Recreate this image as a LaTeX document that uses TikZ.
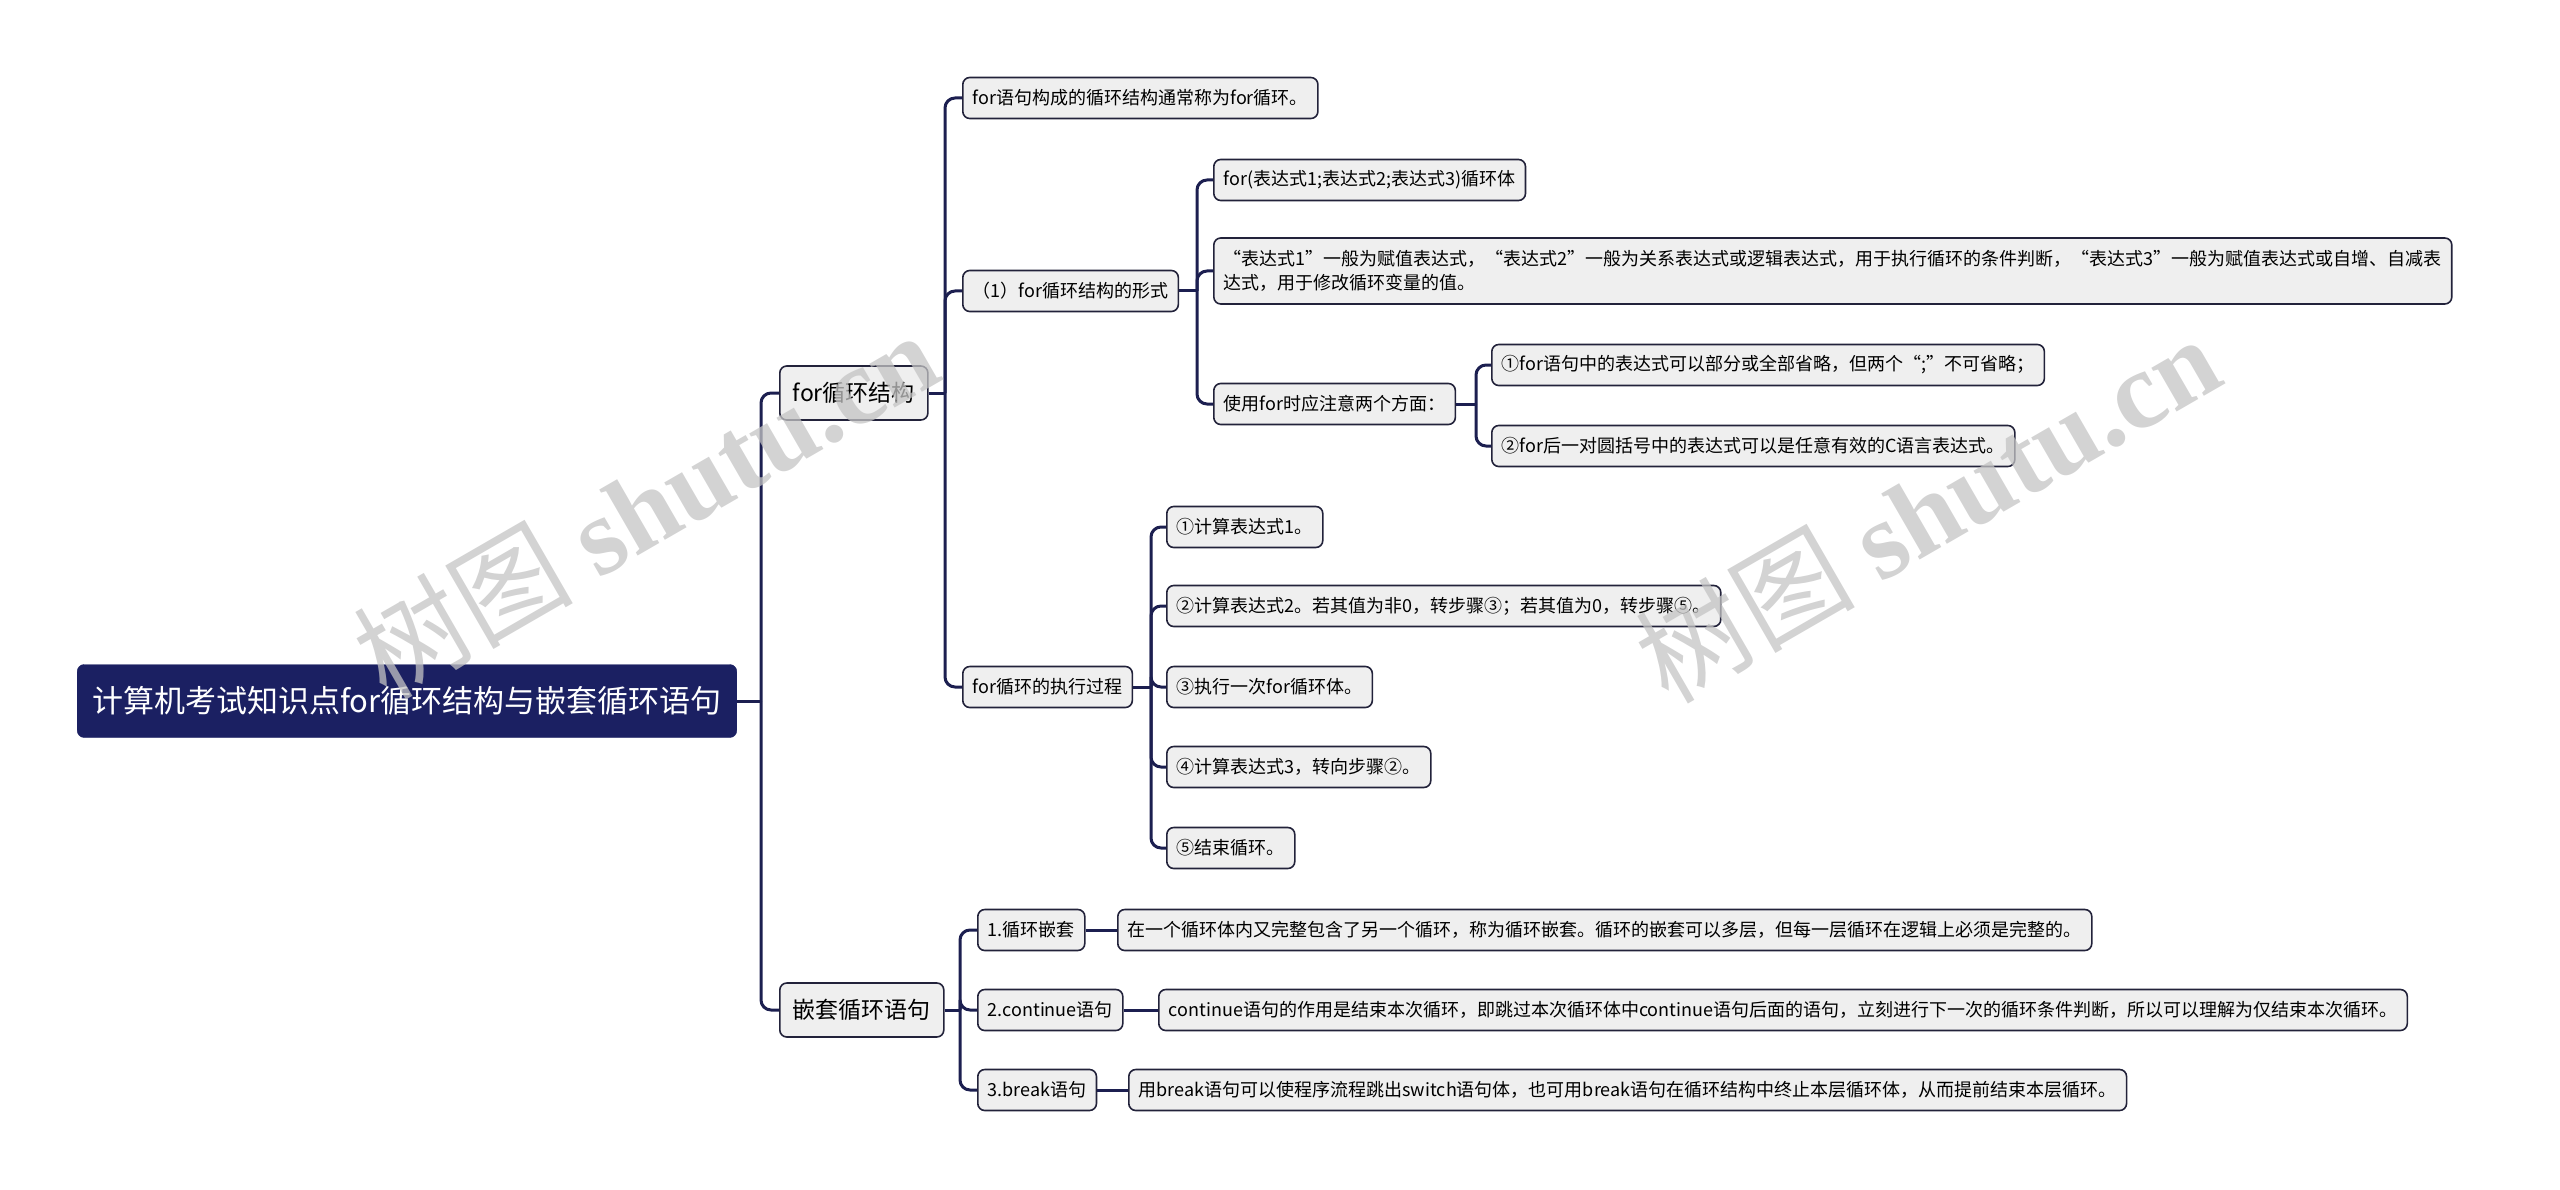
\documentclass[tikz,border=0pt]{standalone}
\usepackage{fontspec}
\setmainfont{Noto Sans CJK SC}
\newfontfamily\markserif{Liberation Serif}
\usepackage{tikz}
\usetikzlibrary{calc,positioning}
\definecolor{mmNavy}{HTML}{1B2062}
\definecolor{mmLine}{HTML}{1C1F50}
\definecolor{mmEdge}{HTML}{22223A}
\definecolor{mmGray}{HTML}{EFEFEF}
\definecolor{mmMark}{HTML}{C4C4C4}

\tikzset{
  rootbox/.style={fill=mmNavy, draw=mmNavy, text=white, rounded corners=7pt,
    font=\fontsize{31}{37}\selectfont, minimum height=73pt, inner xsep=15pt, anchor=west},
  topicbox/.style={fill=mmGray, draw=mmEdge, line width=1.6pt, rounded corners=7pt,
    font=\fontsize{23}{28}\selectfont, minimum height=54pt, inner xsep=13pt, anchor=west},
  leafbox/.style={fill=mmGray, draw=mmEdge, line width=1.6pt, rounded corners=7pt,
    font=\fontsize{18}{24}\selectfont, minimum height=41pt, inner xsep=10pt, anchor=west},
  link/.style={draw=mmLine, line width=3pt, rounded corners=10pt},
  watermark/.style={text=mmMark, opacity=0.75, rotate=30, font=\fontsize{110}{110}\selectfont}
}

\begin{document}
\begin{tikzpicture}[x=1pt,y=-1pt]
  \useasboundingbox (0,0) rectangle (2560,1190);

  % root and first level
  \node[rootbox] (root) at (77,701) {计算机考试知识点for循环结构与嵌套循环语句};
  \node[topicbox] (loop) at (779,393) {for循环结构};
  \node[topicbox] (nest) at (779,1010) {嵌套循环语句};

  % for循环结构
  \foreach \y/\n/\t in {
    98/def/{for语句构成的循环结构通常称为for循环。},
    291/form/{（1）for循环结构的形式},
    687/run/{for循环的执行过程}
  } {
    \node[leafbox] (\n) at (962,\y) {\t};
  }

  % （1）for循环结构的形式
  \node[leafbox] (syntax) at (1213,180) {for(表达式1;表达式2;表达式3)循环体};
  \node[leafbox, align=left, minimum height=66pt] (expr) at (1213,271)
    {“表达式1”一般为赋值表达式，“表达式2”一般为关系表达式或逻辑表达式，用于执行循环的条件判断，“表达式3”一般为赋值表达式或自增、自减表\\达式，用于修改循环变量的值。};
  \node[leafbox] (note) at (1213,404) {使用for时应注意两个方面：};
  \node[leafbox] (note1) at (1491,365) {①for语句中的表达式可以部分或全部省略，但两个“;”不可省略；};
  \node[leafbox] (note2) at (1491,446) {②for后一对圆括号中的表达式可以是任意有效的C语言表达式。};

  % for循环的执行过程
  \foreach \y/\n/\t in {
    527/stepA/{①计算表达式1。},
    606/stepB/{②计算表达式2。若其值为非0，转步骤③；若其值为0，转步骤⑤。},
    687/stepC/{③执行一次for循环体。},
    767/stepD/{④计算表达式3，转向步骤②。},
    848/stepE/{⑤结束循环。}
  } {
    \node[leafbox] (\n) at (1166,\y) {\t};
  }

  % 嵌套循环语句
  \node[leafbox] (kind1) at (977,930) {1.循环嵌套};
  \node[leafbox] (kind2) at (977,1010) {2.continue语句};
  \node[leafbox] (kind3) at (977,1090) {3.break语句};
  \node[leafbox] (text1) at (1117,930) {在一个循环体内又完整包含了另一个循环，称为循环嵌套。循环的嵌套可以多层，但每一层循环在逻辑上必须是完整的。};
  \node[leafbox] (text2) at (1158,1010) {continue语句的作用是结束本次循环，即跳过本次循环体中continue语句后面的语句，立刻进行下一次的循环条件判断，所以可以理解为仅结束本次循环。};
  \node[leafbox] (text3) at (1128,1090) {用break语句可以使程序流程跳出switch语句体，也可用break语句在循环结构中终止本层循环体，从而提前结束本层循环。};

  % trunks
  \coordinate (mainT) at (761,0);
  \coordinate (loopT) at (945,0);
  \coordinate (formT) at (1197,0);
  \coordinate (noteT) at (1476,0);
  \coordinate (runT) at (1151,0);
  \coordinate (nestT) at (960,0);

  % connectors
  \draw[link] (root.east) -- (root.east -| mainT);
  \foreach \c in {loop,nest} \draw[link] (root.east -| mainT) |- (\c.west);
  \draw[link] (loop.east) -- (loop.east -| loopT);
  \foreach \c in {def,form,run} \draw[link] (loop.east -| loopT) |- (\c.west);
  \draw[link] (form.east) -- (form.east -| formT);
  \foreach \c in {syntax,expr,note} \draw[link] (form.east -| formT) |- (\c.west);
  \draw[link] (note.east) -- (note.east -| noteT);
  \foreach \c in {note1,note2} \draw[link] (note.east -| noteT) |- (\c.west);
  \draw[link] (run.east) -- (run.east -| runT);
  \foreach \c in {stepA,stepB,stepC,stepD,stepE} \draw[link] (run.east -| runT) |- (\c.west);
  \draw[link] (nest.east) -- (nest.east -| nestT);
  \foreach \c in {kind1,kind2,kind3} \draw[link] (nest.east -| nestT) |- (\c.west);
  \foreach \k/\t in {kind1/text1,kind2/text2,kind3/text3} \draw[link] (\k.east) -- (\t.west);

  % watermarks
  \node[watermark] (markA) at (645,504) {树图 {\markserif\bfseries shutu.cn}};
  \node[watermark] (markB) at (1927,508) {树图 {\markserif\bfseries shutu.cn}};
\end{tikzpicture}
\end{document}
